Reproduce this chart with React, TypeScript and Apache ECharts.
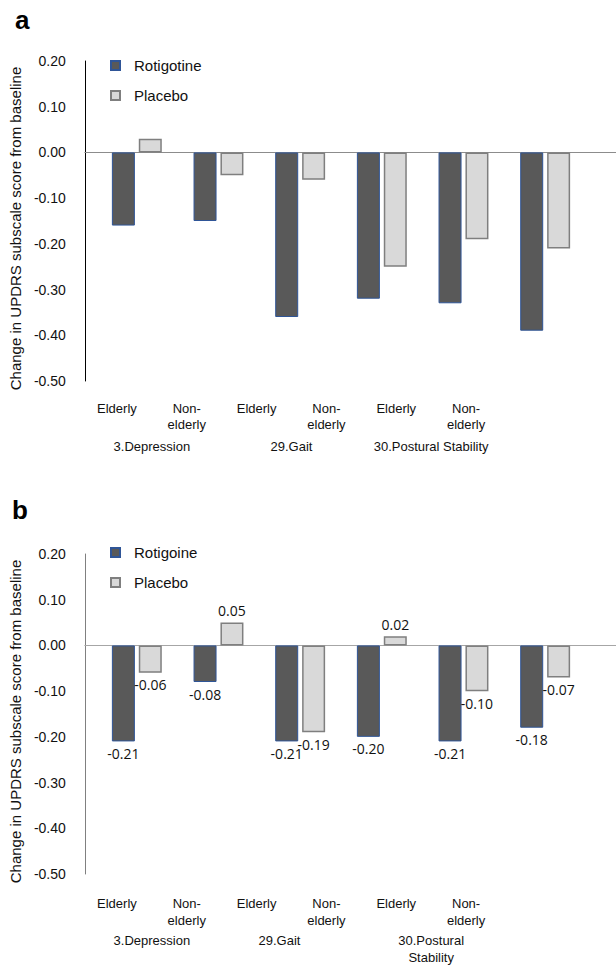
import React, { useEffect, useRef } from "react";
import * as echarts from "echarts";

const subCategories = ["Elderly", "Non-\nelderly", "Elderly", "Non-\nelderly", "Elderly", "Non-\nelderly"];
const groupsA = ["3.Depression", "29.Gait", "30.Postural Stability"];
const groupsB = ["3.Depression", "29.Gait", "30.Postural\nStability"];

const rotigotineA = [-0.16, -0.15, -0.36, -0.32, -0.33, -0.39];
const placeboA = [0.03, -0.05, -0.06, -0.25, -0.19, -0.21];
const rotigotineB = [-0.21, -0.08, -0.21, -0.2, -0.21, -0.18];
const placeboB = [-0.06, 0.05, -0.19, 0.02, -0.1, -0.07];

const yMin = -0.5;
const yMax = 0.2;
const yInterval = 0.1;

const FONT = "Liberation Sans";
const LABEL_FONT = "Open Sans";

export default function App() {
  const ref = useRef<HTMLDivElement>(null);

  useEffect(() => {
    document.body.style.margin = "0";
    const chart = echarts.init(ref.current!, null, { renderer: "svg" });

    const panels = [
      { top: 61, axisColor: "#000000", zeroColor: "#8c8c8c", subMargin: 19, groupMargin: 57, lineH: 16, groups: groupsA },
      { top: 554, axisColor: "#808080", zeroColor: "#a6a6a6", subMargin: 24, groupMargin: 61, lineH: 17, groups: groupsB },
    ];

    const grids: any[] = [];
    const xAxes: any[] = [];
    const yAxes: any[] = [];
    panels.forEach((p, i) => {
      const g0 = i * 3;
      grids.push({ left: 82, top: p.top, width: 534, height: 320 });
      grids.push({ left: 96, top: p.top, width: 490, height: 320 });
      grids.push({ left: 82, top: p.top, width: 419, height: 320 });
      xAxes.push({
        gridIndex: g0,
        type: "category",
        data: [""],
        axisLine: { show: true, onZero: true, lineStyle: { color: p.zeroColor, width: 1 } },
        axisTick: { show: false },
        axisLabel: { show: false },
      });
      xAxes.push({ gridIndex: g0 + 1, type: "category", data: subCategories, show: false });
      xAxes.push({
        gridIndex: g0 + 2,
        type: "category",
        data: subCategories,
        position: "bottom",
        axisLine: { show: false },
        axisTick: { show: false },
        axisLabel: {
          interval: 0,
          margin: p.subMargin,
          fontFamily: FONT,
          fontSize: 13,
          lineHeight: p.lineH,
          color: "#111",
        },
      });
      xAxes.push({
        gridIndex: g0 + 2,
        type: "category",
        data: p.groups.map((g, k) =>
          i === 1 && k === 1 ? { value: g, textStyle: { padding: [0, 24, 0, 0] } } : g
        ),
        position: "bottom",
        axisLine: { show: false },
        axisTick: { show: false },
        axisLabel: {
          interval: 0,
          margin: p.groupMargin,
          fontFamily: FONT,
          fontSize: 13,
          lineHeight: p.lineH,
          color: "#111",
        },
      });
      yAxes.push({
        gridIndex: g0,
        type: "value",
        min: yMin,
        max: yMax,
        interval: yInterval,
        axisLine: { show: true, lineStyle: { color: p.axisColor, width: 1 } },
        axisTick: { show: false },
        splitLine: { show: false },
        axisLabel: {
          margin: 19,
          fontFamily: FONT,
          fontSize: 14,
          color: "#111",
          formatter: (v: number) => v.toFixed(2),
        },
        name: "Change in UPDRS subscale score from baseline",
        nameLocation: "middle",
        nameGap: 56,
        nameTextStyle: { fontFamily: FONT, fontSize: 15, color: "#111", padding: [0, 15, 0, 0] },
      });
      yAxes.push({ gridIndex: g0 + 1, type: "value", min: yMin, max: yMax, interval: yInterval, show: false, splitLine: { show: false } });
      yAxes.push({ gridIndex: g0 + 2, type: "value", min: yMin, max: yMax, interval: yInterval, show: false, splitLine: { show: false } });
    });

    const rotStyle = { color: "#595959", borderColor: "#2F5597", borderWidth: 1 };
    const plaStyle = { color: "#D9D9D9", borderColor: "#7F7F7F", borderWidth: 1.5 };

    const labelled = (arr: number[]) =>
      arr.map((v) => ({
        value: v,
        label: { position: v < 0 ? "bottom" : "top" },
      }));

    const labelStyle = {
      show: true,
      fontFamily: LABEL_FONT,
      fontSize: 14,
      color: "#111",
      distance: 5,
      formatter: (p: any) => Number(p.value).toFixed(2),
    };

    const legendBase = {
      orient: "vertical",
      left: 110,
      padding: 0,
      icon: "rect",
      itemWidth: 9,
      itemHeight: 9,
      itemGap: 15,
      selectedMode: false,
      textStyle: { fontFamily: FONT, fontSize: 15, color: "#111", padding: [0, 0, 0, 9] },
    };

    const option: any = {
      animation: false,
      backgroundColor: "#ffffff",
      grid: grids,
      xAxis: xAxes,
      yAxis: yAxes,
      legend: [
        { ...legendBase, data: ["Rotigotine", "Placebo"], top: 58 },
        { ...legendBase, data: ["Rotigoine", "Placebo"], top: 545 },
      ],
      graphic: [
        { type: "text", left: 15, top: 7, style: { text: "a", font: `bold 26px "${FONT}"`, fill: "#000" } },
        { type: "text", left: 12, top: 497, style: { text: "b", font: `bold 26px "${FONT}"`, fill: "#000" } },
      ],
      series: [
        {
          name: "Rotigotine",
          type: "bar",
          xAxisIndex: 1,
          yAxisIndex: 1,
          barWidth: 23,
          barGap: "17%",
          itemStyle: rotStyle,
          data: rotigotineA,
        },
        {
          name: "Placebo",
          type: "bar",
          xAxisIndex: 1,
          yAxisIndex: 1,
          barWidth: 23,
          barGap: "17%",
          itemStyle: plaStyle,
          data: placeboA,
        },
        {
          name: "Rotigoine",
          type: "bar",
          xAxisIndex: 5,
          yAxisIndex: 4,
          barWidth: 23,
          barGap: "17%",
          itemStyle: rotStyle,
          label: labelStyle,
          data: labelled(rotigotineB),
        },
        {
          name: "Placebo",
          type: "bar",
          xAxisIndex: 5,
          yAxisIndex: 4,
          barWidth: 23,
          barGap: "17%",
          itemStyle: plaStyle,
          label: labelStyle,
          data: labelled(placeboB),
        },
      ],
    };

    chart.setOption(option);
    return () => chart.dispose();
  }, []);

  return <div ref={ref} style={{ width: 616, height: 966 }} />;
}
